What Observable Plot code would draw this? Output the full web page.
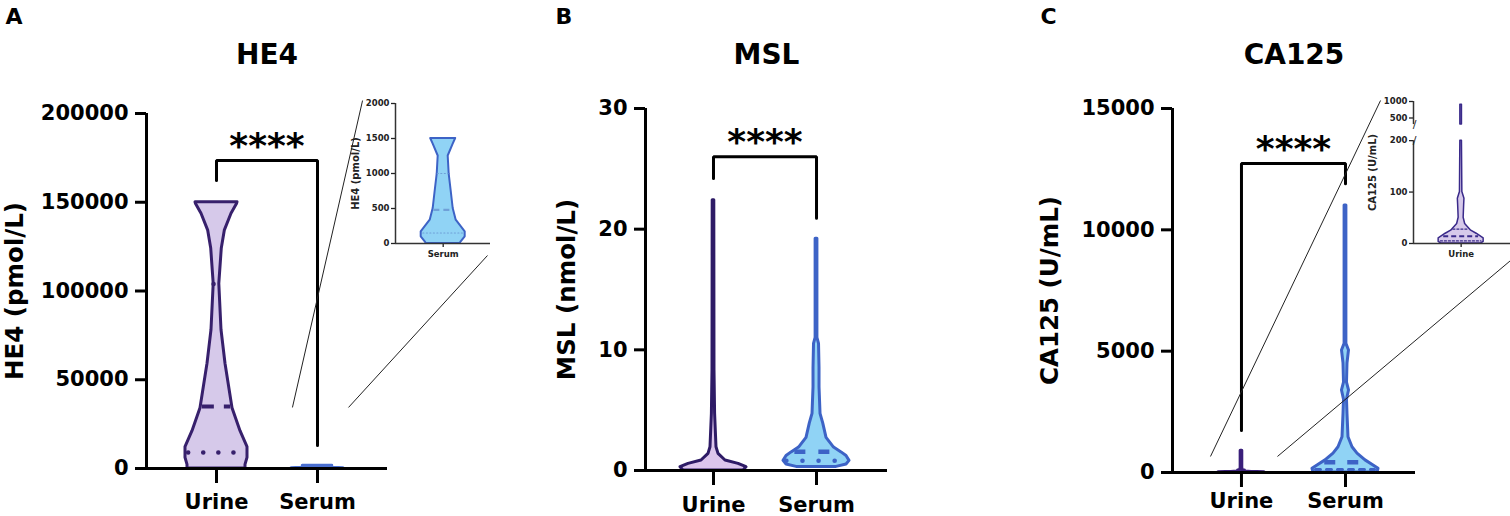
<!DOCTYPE html>
<html><head><meta charset="utf-8">
<script src="https://cdn.jsdelivr.net/npm/d3@7"></script>
<script src="https://cdn.jsdelivr.net/npm/@observablehq/plot@0.6"></script>
<style>
html,body{margin:0;padding:0;background:#fff;}
#fig{position:relative;width:1510px;height:516px;overflow:hidden;background:#fff;}
#fig svg{position:absolute;background:transparent;overflow:visible;}
.main g[aria-label="y-axis tick"], .main g[aria-label="x-axis tick"],
.main g[aria-label="y-axis"] line, .main g[aria-label="x-axis"] line{stroke-width:3px;}
.inset g[aria-label="y-axis tick"], .inset g[aria-label="x-axis tick"],
.inset g[aria-label="y-axis"] line, .inset g[aria-label="x-axis"] line{stroke-width:1.3px;}
</style>
</head><body><div id="fig"></div>
<script>
// ---------- categories, labels, ticks ----------
const groups = ["Urine", "Serum"];
const panelLetters = ["A", "B", "C"];
const panelTitles = ["HE4", "MSL", "CA125"];
const yLabels = ["HE4 (pmol/L)", "MSL (nmol/L)", "CA125 (U/mL)"];
const sigText = "****";
const he4Ticks = [0, 50000, 100000, 150000, 200000];
const mslTicks = [0, 10, 20, 30];
const ca125Ticks = [0, 5000, 10000, 15000];
const he4InsetTicks = [0, 500, 1000, 1500, 2000];
const ca125InsetTicks = [0, 100, 200, 500, 1000];
const ca125InsetBreak = [200, 300];

// ---------- violin profiles (value level, relative density) ----------
const he4UrineLevels  = [0, 2000, 6000, 12000, 21000, 34000, 59000, 78000, 104000, 124000, 134000, 143500, 149000, 150000];
const he4UrineDensity = [29, 29, 31, 31, 24, 16, 9, 5, 2.8, 5.3, 8.3, 15, 20.5, 21];
const he4UrineQuart   = [9000, 35000, 104000];

const he4SerumLevels  = [0, 24, 95, 167, 240, 333, 500, 750, 990, 1250, 1420, 1500];
const he4SerumDensity = [17, 18, 22, 22, 18, 13, 10, 8, 6, 5, 10, 12.5];
const he4SerumQuart   = [150, 480, 1000];

const mslUrineLevels  = [0, 0.27, 0.55, 0.83, 1.38, 1.93, 4.7, 8.3, 22.4];
const mslUrineDensity = [30, 33, 25, 12, 5, 3, 1.6, 1, 0.8];

const mslSerumLevels  = [0.3, 0.5, 0.8, 1.2, 1.5, 1.9, 2.7, 3.9, 4.7, 6.9, 8.5, 10.5, 11, 19.2];
const mslSerumDensity = [20, 30, 33, 30, 25, 17.5, 10, 6.7, 4, 3, 3, 2.5, 0.9, 0.9];
const mslSerumQuart   = [0.8, 1.55, null];

const ca125UrineLevels  = [0, 3, 10, 19, 25, 38, 50, 75, 87, 100, 200, 300, 900];
const ca125UrineDensity = [20, 22.5, 22.5, 15.5, 10, 4, 2.5, 3, 3.3, 1.2, 0.8, 0.8, 0.8];
const ca125UrineQuart   = [5, 14, 28];

const ca125SerumLevels  = [0, 150, 290, 500, 780, 1040, 1450, 2400, 3000, 3380, 3700, 4500, 5030, 5300, 11000];
const ca125SerumDensity = [32, 33, 28, 20, 12, 7, 3, 2, 1.5, 3.5, 1.5, 2, 3.5, 0.9, 0.9];
const ca125SerumQuart   = [120, 420, null];

// ---------- significance brackets (left end, top, right end) ----------
const he4Bracket   = [162300, 173500, 12960];
const mslBracket   = [24.2, 26.0, 20.9];
const ca125Bracket = [1730, 12730, 11900];

// ---------- zoom connector lines (data coordinates of each main panel) ----------
const he4Connectors   = [{x1: 0.752, y1: 34400, x2: 1.446, y2: 207300}, {x1: 1.307, y1: 34400, x2: 2.683, y2: 120000}];
const ca125Connectors = [{x1: -0.298, y1: 660, x2: 1.337, y2: 15330}, {x1: 0.346, y1: 660, x2: 2.587, y2: 8735}];

// ---------- colours ----------
const purpleStroke = "#37206c", purpleFill = "#d6c9ea";
const blueStroke = "#3d63c6", blueFill = "#90d3f5";

// ---------- helpers ----------
function norm(a) { const m = d3.max(a); return a.map(d => d / m); }
function interp(levels, dn, q) {
  if (q <= levels[0]) return dn[0];
  for (let i = 1; i < levels.length; i++) if (q <= levels[i]) {
    const t = (q - levels[i - 1]) / (levels[i] - levels[i - 1]);
    return dn[i - 1] + t * (dn[i] - dn[i - 1]);
  }
  return dn[dn.length - 1];
}
function violin(levels, density, quart, o) {
  const dn = norm(density);
  const ym = o.ymap || (v => v);
  const rows = levels.map((v, i) => ({v, y: ym(v), x1: o.center - dn[i] * o.half, x2: o.center + dn[i] * o.half}));
  const segs = o.segments || [[-Infinity, Infinity]];
  const marks = segs.map(([lo, hi]) => Plot.areaX(rows.filter(d => d.v >= lo && d.v <= hi),
    {y: "y", x1: "x1", x2: "x2", fill: o.fill, stroke: o.stroke, strokeWidth: o.sw, strokeLinejoin: "round"}));
  (quart || []).forEach((q, i) => {
    if (q == null) return;
    const w = interp(levels, dn, q) * o.half * 0.9;
    const med = i === 1;
    marks.push(Plot.ruleY([ym(q)], {
      x1: o.center - w, x2: o.center + w, stroke: o.qStroke || o.stroke,
      strokeWidth: med ? o.medW : o.qW,
      strokeDasharray: med ? o.medDash : o.qDash,
      strokeLinecap: med ? "butt" : "round"
    }));
  });
  return marks;
}

const fig = document.getElementById("fig");
function place(svg, left, top, cls) {
  svg.style.left = left + "px"; svg.style.top = top + "px";
  svg.style.background = "transparent"; svg.style.maxWidth = "none";
  svg.classList.add(cls);
  fig.appendChild(svg);
}

function mainPanel(p) {
  const step = (p.width - p.ml - p.mr) / (p.xDomain[1] - p.xDomain[0]);
  const u = px => px / step;
  const [bl, bt, br] = p.bracket;
  const marks = [
    ...p.violins(u),
    Plot.ruleY([0], {stroke: "#000", strokeWidth: 3}),
    Plot.ruleX([p.xDomain[0]], {y1: p.yDomain[0], y2: p.yDomain[1], stroke: "#000", strokeWidth: 3}),
    Plot.line([{x: 0, y: bl}, {x: 0, y: bt}, {x: 1, y: bt}, {x: 1, y: br}], {x: "x", y: "y", stroke: "#000", strokeWidth: 3, strokeLinejoin: "miter"}),
    Plot.text([sigText], {x: () => 0.5, y: () => bt, dy: -14, fontSize: 36, fontWeight: "bold"}),
    Plot.text([p.title], {frameAnchor: "top", lineAnchor: "middle", dy: p.titleDy, fontSize: 28, fontWeight: "bold"}),
    Plot.text([p.letter], {frameAnchor: "top-left", textAnchor: "start", lineAnchor: "middle", dx: p.letterDx, dy: p.letterDy, fontSize: 22, fontWeight: "bold"}),
    Plot.text([p.yLabel], {frameAnchor: "left", textAnchor: "middle", lineAnchor: "middle", rotate: -90, dx: p.yLabelDx, fontSize: 24.5, fontWeight: "bold"})
  ];
  if (p.connectors) marks.push(Plot.link(p.connectors, {x1: "x1", y1: "y1", x2: "x2", y2: "y2", stroke: "#222", strokeWidth: 1}));
  return Plot.plot({
    width: p.width, height: 516,
    marginLeft: p.ml, marginRight: p.mr, marginTop: p.mt, marginBottom: p.mb,
    style: {fontFamily: "'DejaVu Sans', sans-serif", fontWeight: "bold", fontSize: "21px", color: "#000", background: "transparent", overflow: "visible"},
    x: {domain: p.xDomain, ticks: [0, 1], tickFormat: i => groups[i], tickSize: 15, tickPadding: p.xPad, label: null},
    y: {domain: p.yDomain, ticks: p.yTicks, tickFormat: d => String(d), tickSize: 11, tickPadding: 7, label: null},
    marks
  });
}

// ---------- Panel A: HE4 ----------
place(mainPanel({
  width: 500, ml: 146, mr: 113, mt: 113, mb: 48, xPad: 11,
  xDomain: [-0.693, 1.693], yDomain: [0, 200000], yTicks: he4Ticks,
  bracket: he4Bracket, title: panelTitles[0], letter: panelLetters[0], yLabel: yLabels[0],
  titleDy: -58, letterDx: -141, letterDy: -97, yLabelDx: -131,
  connectors: he4Connectors,
  violins: u => [
    ...violin(he4UrineLevels, he4UrineDensity, he4UrineQuart, {center: 0, half: u(31), fill: purpleFill, stroke: purpleStroke, sw: 3,
      medW: 4, medDash: "12,10", qW: 4.5, qDash: "0.1,15"}),
    ...violin(he4SerumLevels, he4SerumDensity, null, {center: 1, half: u(26), fill: blueFill, stroke: "#4a6fd0", sw: 3})
  ]
}), 0, 0, "main");

// ---------- Panel B: MSL ----------
place(mainPanel({
  width: 500, ml: 145, mr: 113, mt: 108, mb: 46, xPad: 12,
  xDomain: [-0.660, 1.689], yDomain: [0, 30], yTicks: mslTicks,
  bracket: mslBracket, title: panelTitles[1], letter: panelLetters[1], yLabel: yLabels[1],
  titleDy: -53, letterDx: -90, letterDy: -92, yLabelDx: -78,
  violins: u => [
    ...violin(mslUrineLevels, mslUrineDensity, null, {center: 0, half: u(33), fill: "#dcc5ec", stroke: "#2e1b66", sw: 3}),
    ...violin(mslSerumLevels, mslSerumDensity, mslSerumQuart, {center: 1, half: u(33), fill: blueFill, stroke: blueStroke, sw: 3,
      medW: 4.5, medDash: "11,13", qW: 4.5, qDash: "0.1,16"})
  ]
}), 500, 0, "main");

// ---------- Panel C: CA125 ----------
place(mainPanel({
  width: 510, ml: 172, mr: 95, mt: 108, mb: 44, xPad: 6,
  xDomain: [-0.663, 1.673], yDomain: [0, 15000], yTicks: ca125Ticks,
  bracket: ca125Bracket, title: panelTitles[2], letter: panelLetters[2], yLabel: yLabels[2],
  titleDy: -53, letterDx: -132, letterDy: -92, yLabelDx: -122,
  connectors: ca125Connectors,
  violins: u => [
    ...violin(ca125UrineLevels, ca125UrineDensity, null, {center: 0, half: u(23), fill: purpleFill, stroke: "#3a1f7a", sw: 3}),
    ...violin(ca125SerumLevels, ca125SerumDensity, ca125SerumQuart, {center: 1, half: u(33), fill: blueFill, stroke: blueStroke, sw: 3,
      medW: 4.5, medDash: "11,12", qW: 3, qDash: "5,6"})
  ]
}), 1000, 0, "main");

// ---------- insets ----------
function insetPanel(p) {
  const step = (p.width - p.ml - p.mr) / (p.xDomain[1] - p.xDomain[0]);
  const u = px => px / step;
  const ym = p.ymap || (v => v);
  const marks = [
    ...p.violins(u),
    Plot.ruleY([0], {stroke: "#333", strokeWidth: 1.5}),
    ...p.yAxisSegments.map(([a, b]) => Plot.ruleX([p.xDomain[0]], {y1: ym(a), y2: ym(b), stroke: "#333", strokeWidth: 1.5})),
    Plot.text([p.yLabel], {frameAnchor: "left", textAnchor: "middle", lineAnchor: "middle", rotate: -90, dx: p.yLabelDx, fontSize: 10, fontWeight: "bold"})
  ];
  if (p.breaks) marks.push(Plot.text(p.breaks, {x: () => p.xDomain[0], y: d => ym(d), text: () => "/", fontSize: 11, fontWeight: "normal", dx: 1}));
  return Plot.plot({
    width: p.width, height: p.height,
    marginLeft: p.ml, marginRight: p.mr, marginTop: p.mt, marginBottom: p.mb,
    style: {fontFamily: "'DejaVu Sans', sans-serif", fontWeight: "bold", fontSize: "8.5px", color: "#222", background: "transparent", overflow: "visible"},
    x: {domain: p.xDomain, ticks: [0], tickFormat: () => p.group, tickSize: 4, tickPadding: 3, label: null},
    y: {domain: [0, ym(p.yTicks[p.yTicks.length - 1])], ticks: p.yTicks.map(ym), tickFormat: (d, i) => String(p.yTicks[i]), tickSize: 4, tickPadding: 2, label: null},
    marks
  });
}

place(insetPanel({
  width: 155, height: 180, ml: 55, mr: 5, mt: 18, mb: 22,
  xDomain: [-1.004, 0.996], yTicks: he4InsetTicks,
  yAxisSegments: [[0, 2000]], group: groups[1], yLabel: yLabels[0], yLabelDx: -40,
  violins: u => violin(he4SerumLevels, he4SerumDensity, he4SerumQuart, {center: 0, half: u(22), fill: blueFill, stroke: blueStroke, sw: 2,
    medW: 2.2, medDash: "6,4", qW: 1.2, qDash: "1,2.5", qStroke: "#6fa0d8"})
}), 340, 85, "inset");

// broken axis for the CA125 inset: 0–200 linear, gap, 300–1000 compressed
const ca125Brk = v => v <= 200 ? v : v <= 300 ? 200 + 31.2 * (v - 200) / 100 : 231.2 + (v - 300) * 44.9 / 700;
place(insetPanel({
  width: 145, height: 180, ml: 48, mr: 0, mt: 16, mb: 22,
  xDomain: [-1.004, 1.04], yTicks: ca125InsetTicks, ymap: ca125Brk,
  yAxisSegments: [[0, ca125InsetBreak[0]], [ca125InsetBreak[1], 1000]], breaks: ca125InsetBreak,
  group: groups[0], yLabel: yLabels[2], yLabelDx: -41,
  violins: u => violin(ca125UrineLevels, ca125UrineDensity, ca125UrineQuart, {center: 0, half: u(22.5), fill: purpleFill, stroke: "#3a2a8a", sw: 1.5,
    ymap: ca125Brk, segments: [[0, ca125InsetBreak[0]], [ca125InsetBreak[1], 1000]],
    medW: 2, medDash: "5,3", qW: 1.3, qDash: "2,2"})
}), 1365, 85, "inset");
</script>
</body></html>
